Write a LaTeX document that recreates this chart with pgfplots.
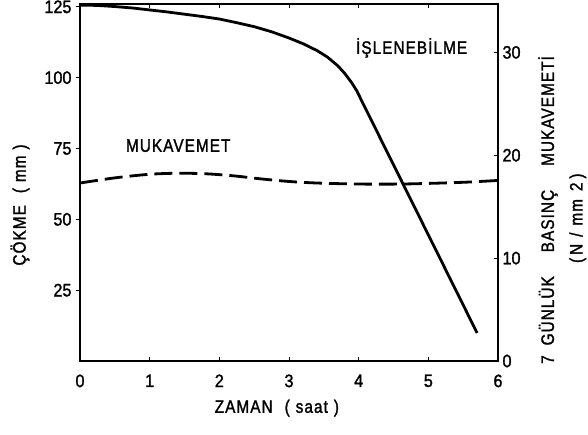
\documentclass[border=0pt]{standalone}
\usepackage{fontspec}
\setmainfont{Liberation Sans}[FakeStretch=0.9, FakeBold=1.5]
\newfontfamily\labelfont{Liberation Sans}[FakeStretch=0.85, LetterSpace=6, FakeBold=1.5]
\usepackage{pgfplots}
\pgfplotsset{compat=1.18}

% Workability (slump) over time, left axis
\pgfplotstableread{
x    y
0.00 125.6
0.25 125.5
0.50 125.1
0.75 124.6
1.00 123.9
1.25 123.2
1.50 122.4
1.75 121.6
2.00 120.7
2.25 119.4
2.50 118.0
2.75 116.2
3.00 114.0
3.20 112.0
3.40 109.6
3.55 107.3
3.70 104.2
3.80 101.5
3.90 98.2
3.97 95.5
4.03 92.5
5.70 9.9
}\slump

% 7-day compressive strength, right axis
\pgfplotstableread{
x   y
0.0 17.30
0.5 17.80
1.0 18.15
1.4 18.25
1.8 18.20
2.2 18.00
2.6 17.70
3.0 17.45
3.4 17.30
4.0 17.20
4.6 17.20
5.2 17.30
5.6 17.40
6.0 17.55
}\strength

\newcommand\lbl{\labelfont\fontsize{18}{21}\selectfont}

\begin{document}
\begin{tikzpicture}
\useasboundingbox (-80pt,-73pt) rectangle (508pt,361pt);
\pgfplotsset{
  common/.style={
    at={(0pt,0pt)}, anchor=south west,
    scale only axis, width=418pt, height=357pt,
    xmin=0, xmax=6,
    tick align=inside,
    major tick length=4pt,
    axis line style={line width=1.1pt},
    every tick/.style={black, line width=0.9pt},
    ticklabel style={font=\fontsize{18}{21}\selectfont},
    /pgf/number format/assume math mode=true,
    clip=false,
  }
}
\begin{axis}[
  common,
  ymin=0, ymax=126,
  xtick={0,1,...,6}, ytick={25,50,75,100,125},
  xtick pos=both, xticklabel pos=lower,
  ytick pos=left,
  ytick style={xshift=-4pt},
  xticklabel style={yshift=-10pt},
  yticklabel style={xshift=-5pt},
]
\addplot[black, line width=2.8pt, line join=round] table[x=x, y=y] {\slump};

\node[font=\lbl] at (axis cs:1.41,76) {MUKAVEMET};
\node[font=\lbl] at (axis cs:4.76,110.5) {İŞLENEBİLME};

\node[rotate=90, font=\lbl] at (rel axis cs:-0.1435,0.437)
  {ÇÖKME\hspace{12pt}(\hspace{6pt}mm\hspace{6pt})};
\node[font=\lbl] at (rel axis cs:0.471,-0.132)
  {ZAMAN\hspace{12pt}(\hspace{6pt}saat\hspace{6pt})};
\node[rotate=90, font=\lbl] at (rel axis cs:1.1196,0.423)
  {7\hspace{10pt}GÜNLÜK\hspace{24pt}BASINÇ\hspace{24pt}MUKAVEMETİ};
\node[rotate=90, font=\lbl] at (rel axis cs:1.191,0.40)
  {(\hspace{3pt}N\hspace{7pt}/\hspace{7pt}mm\hspace{8pt}2\hspace{4pt})};
\end{axis}

\begin{axis}[
  common,
  ymin=0, ymax=34.7,
  axis x line=none,
  axis y line*=right,
  ytick={0,10,20,30},
  yticklabel style={xshift=1pt},
]
\addplot[black, line width=2.8pt, dash pattern=on 18pt off 7pt, smooth] table[x=x, y=y] {\strength};
\end{axis}
\end{tikzpicture}
\end{document}
